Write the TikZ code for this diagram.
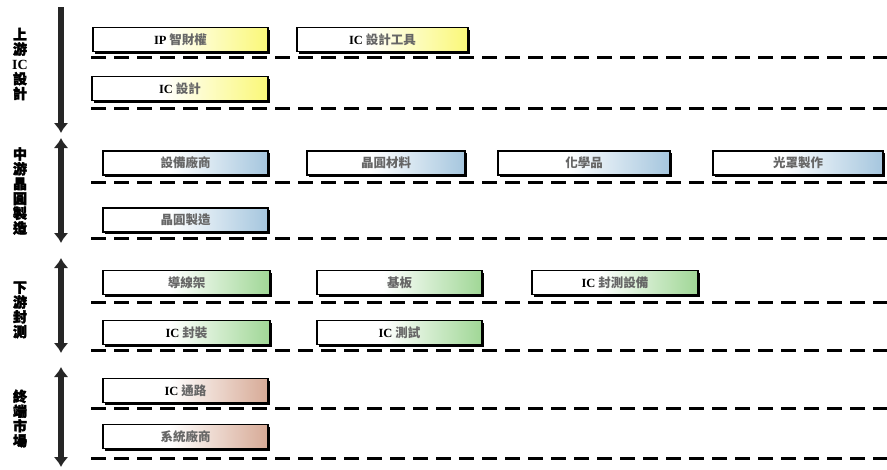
\documentclass[tikz,border=0pt]{standalone}
\usepackage{fontspec}
\setmainfont{Liberation Serif}
\newfontfamily\cjk{Noto Sans CJK TC}
\newfontfamily\cjkh{Noto Sans CJK TC}[FakeBold=2.5]
\newfontfamily\serifb{Liberation Serif}
\usetikzlibrary{arrows.meta,shadows}
\definecolor{upc}{RGB}{250,248,120}
\definecolor{midc}{RGB}{165,198,222}
\definecolor{downc}{RGB}{160,215,150}
\definecolor{endc}{RGB}{215,170,150}
\pgfdeclarehorizontalshading{upsh}{100bp}{color(0bp)=(white); color(45bp)=(white); color(75bp)=(upc); color(100bp)=(upc)}
\pgfdeclarehorizontalshading{midsh}{100bp}{color(0bp)=(white); color(45bp)=(white); color(75bp)=(midc); color(100bp)=(midc)}
\pgfdeclarehorizontalshading{downsh}{100bp}{color(0bp)=(white); color(45bp)=(white); color(75bp)=(downc); color(100bp)=(downc)}
\pgfdeclarehorizontalshading{endsh}{100bp}{color(0bp)=(white); color(45bp)=(white); color(75bp)=(endc); color(100bp)=(endc)}
\newcommand{\lat}[1]{{\serifb\bfseries\color{black}#1}}
\tikzset{
  item/.style={draw=black, line width=1.5pt, minimum height=24pt, inner sep=0pt,
    drop shadow={shadow xshift=2pt, shadow yshift=-2pt, fill=black, opacity=1},
    font=\fontsize{12.5}{13}\selectfont\cjk\bfseries, text=black!60},
  upbox/.style={item, shading=upsh},
  midbox/.style={item, shading=midsh},
  downbox/.style={item, shading=downsh},
  endbox/.style={item, shading=endsh},
  sep/.style={line width=3pt, dash pattern=on 15pt off 8pt},
  stage/.style={line width=6pt, black!85},
  tipd/.style={-{Latex[length=10pt,width=15pt]}},
  tipdd/.style={{Latex[length=10pt,width=15pt]}-{Latex[length=10pt,width=15pt]}},
  side/.style={align=center, font=\fontsize{14}{14.8}\selectfont\cjkh\bfseries, inner sep=0pt}
}
\begin{document}
\begin{tikzpicture}[x=1pt,y=-1pt]
\useasboundingbox (0,0) rectangle (887,469);
% stage arrows
\coordinate (a1t) at (61,7);   \coordinate (a1b) at (61,133);
\coordinate (a2t) at (61,138); \coordinate (a2b) at (61,243);
\coordinate (a3t) at (61,258); \coordinate (a3b) at (61,353);
\coordinate (a4t) at (61,367); \coordinate (a4b) at (61,467);
\draw[stage,tipd] (a1t) -- (a1b);
\draw[stage,tipdd] (a2t) -- (a2b);
\draw[stage,tipdd] (a3t) -- (a3b);
\draw[stage,tipdd] (a4t) -- (a4b);
% stage labels
\node[side] (s1) at (20,64) {上\\游\\{\serifb\bfseries IC}\\設\\計};
\node[side] (s2) at (20,191) {中\\游\\晶\\圓\\製\\造};
\node[side] (s3) at (20,310) {下\\游\\封\\測};
\node[side] (s4) at (20,418.5) {終\\端\\市\\場};
% dashed separators
\foreach \yy in {57,108,182,238,302,350,408,458}
  \draw[sep] (91,\yy) -- (887,\yy);
% boxes
\node[upbox, minimum width=175pt] (ip) at (180.5,39.5) {\lat{IP} 智財權};
\node[upbox, minimum width=171pt] (tool) at (382.5,39.5) {\lat{IC} 設計工具};
\node[upbox, minimum width=176pt] (icd) at (180,88.5) {\lat{IC} 設計};
\node[midbox, minimum width=165pt] (eq) at (185.5,163) {設備廠商};
\node[midbox, minimum width=158pt] (mat) at (386,163) {晶圓材料};
\node[midbox, minimum width=172pt] (chem) at (584,163) {化學品};
\node[midbox, minimum width=170pt] (mask) at (798,163) {光罩製作};
\node[midbox, minimum width=165pt] (fab) at (185.5,220) {晶圓製造};
\node[downbox, minimum width=167pt] (lf) at (186.5,282.5) {導線架};
\node[downbox, minimum width=165pt] (sub) at (399.5,282.5) {基板};
\node[downbox, minimum width=166pt] (pte) at (615,282.5) {\lat{IC} 封測設備};
\node[downbox, minimum width=167pt] (pkg) at (186.5,332.5) {\lat{IC} 封裝};
\node[downbox, minimum width=165pt] (tst) at (399.5,332.5) {\lat{IC} 測試};
\node[endbox, minimum width=165pt] (dist) at (185.5,390.5) {\lat{IC} 通路};
\node[endbox, minimum width=165pt] (sys) at (185.5,436.5) {系統廠商};
\end{tikzpicture}
\end{document}
